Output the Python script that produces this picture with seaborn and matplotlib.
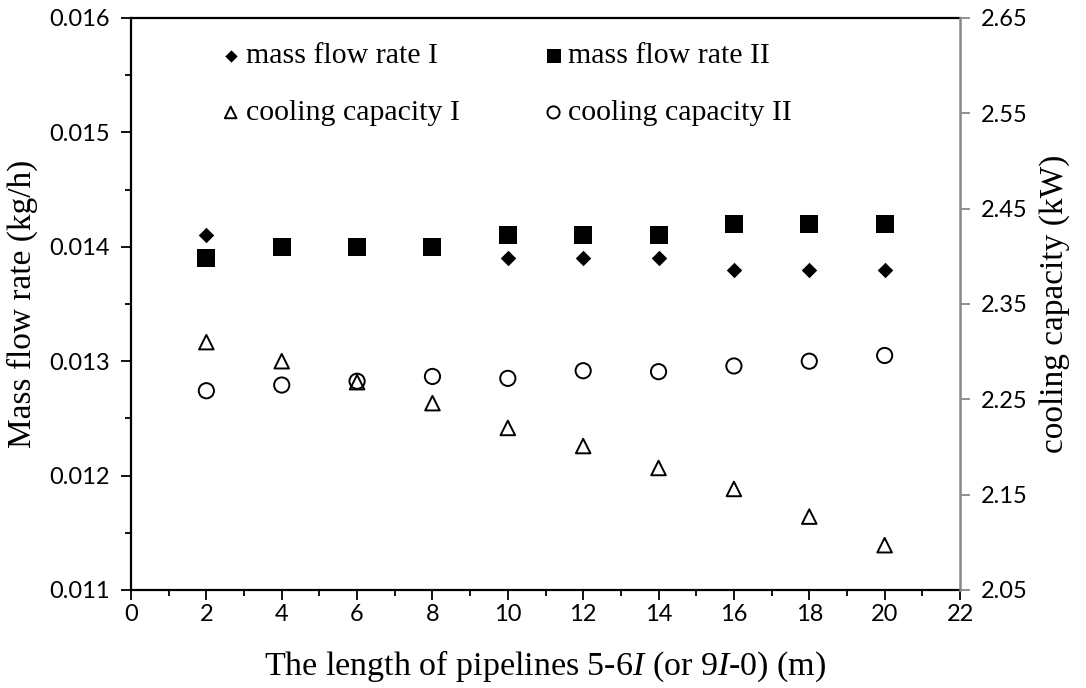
import matplotlib
matplotlib.use("Agg")
import matplotlib.pyplot as plt
import seaborn as sns
import numpy as np
import pandas as pd
from matplotlib.ticker import MultipleLocator, FormatStrFormatter

# ---- data ----
length_m = [2, 4, 6, 8, 10, 12, 14, 16, 18, 20]
mass_flow_I = [0.0141, 0.0140, 0.0140, 0.0140, 0.0139, 0.0139, 0.0139, 0.0138, 0.0138, 0.0138]
mass_flow_II = [0.0139, 0.0140, 0.0140, 0.0140, 0.0141, 0.0141, 0.0141, 0.0142, 0.0142, 0.0142]
cooling_I = [2.310, 2.290, 2.268, 2.246, 2.220, 2.201, 2.178, 2.156, 2.127, 2.097]
cooling_II = [2.259, 2.265, 2.269, 2.274, 2.272, 2.280, 2.279, 2.285, 2.290, 2.296]
x_ticks = list(range(0, 23, 2))
left_ticks = [0.011, 0.012, 0.013, 0.014, 0.015, 0.016]
right_ticks = [2.05, 2.15, 2.25, 2.35, 2.45, 2.55, 2.65]

sns.set_theme(style="white")
plt.rcParams['font.family'] = ['Lato', 'DejaVu Sans']
plt.rcParams['text.color'] = 'black'
plt.rcParams['axes.labelcolor'] = 'black'
plt.rcParams['mathtext.fontset'] = 'custom'
plt.rcParams['mathtext.rm'] = 'Liberation Serif'
plt.rcParams['mathtext.it'] = 'Liberation Serif:italic'

df = pd.DataFrame({"x": length_m, "m1": mass_flow_I, "m2": mass_flow_II,
                   "c1": cooling_I, "c2": cooling_II})

fig = plt.figure(figsize=(10.86, 6.88), dpi=100)
ax = fig.add_axes([131/1086, 1-590/688, (960-131)/1086, (590-18)/688])
ax2 = ax.twinx()

sns.scatterplot(data=df, x="x", y="m1", ax=ax, marker="D", s=62, color="black",
                edgecolor="black", linewidth=0, label="mass flow rate I", zorder=3)
sns.scatterplot(data=df, x="x", y="m2", ax=ax, marker="s", s=150, color="black",
                edgecolor="black", linewidth=0, label="mass flow rate II", zorder=4)
sns.scatterplot(data=df, x="x", y="c1", ax=ax2, marker="^", s=110, facecolor="none",
                edgecolor="black", linewidth=1.4, label="cooling capacity I", zorder=3)
sns.scatterplot(data=df, x="x", y="c2", ax=ax2, marker="o", s=120, facecolor="none",
                edgecolor="black", linewidth=1.4, label="cooling capacity II", zorder=3)

ax.set_xlim(0, 22)
ax.set_ylim(0.011, 0.016)
ax2.set_ylim(2.05, 2.65)
ax.set_xticks(x_ticks)
ax.xaxis.set_minor_locator(MultipleLocator(1))
ax.set_yticks(left_ticks)
ax.yaxis.set_minor_locator(MultipleLocator(0.0005))
ax.yaxis.set_major_formatter(FormatStrFormatter('%.3f'))
ax2.set_yticks(right_ticks)
ax2.yaxis.set_major_formatter(FormatStrFormatter('%.2f'))

for a in (ax, ax2):
    a.grid(False)
    a.set_facecolor('none')

ax.tick_params(axis='both', which='major', direction='out', length=7, width=1.3,
               color='black', labelsize=17, labelcolor='black')
ax.tick_params(axis='both', which='minor', direction='out', length=4, width=1.3,
               color='black')
ax.tick_params(axis='x', which='both', bottom=True, pad=3)
ax.tick_params(axis='y', which='both', left=True, pad=8)
ax2.tick_params(axis='y', which='major', direction='out', length=7, width=1.3,
                color='#888888', labelsize=17, labelcolor='black', right=True, pad=8)

for s in ['left', 'bottom', 'top']:
    ax.spines[s].set_color('black')
    ax.spines[s].set_linewidth(1.6)
ax.spines['right'].set_visible(False)
for s in ['left', 'bottom', 'top']:
    ax2.spines[s].set_visible(False)
ax2.spines['right'].set_color('#888888')
ax2.spines['right'].set_linewidth(1.8)

ax.set_xlabel(r"The length of pipelines 5-6$\mathit{I}$ (or 9$\mathit{I}$-0) (m)",
              family='Liberation Serif', fontsize=24.5, labelpad=17)
ax.set_ylabel("Mass flow rate (kg/h)", family='Liberation Serif', fontsize=24, labelpad=8)
ax2.set_ylabel("cooling capacity (kW)", family='Liberation Serif', fontsize=24, labelpad=8)

h1, l1 = ax.get_legend_handles_labels()
h2, l2 = ax2.get_legend_handles_labels()
if ax.get_legend():
    ax.get_legend().remove()
if ax2.get_legend():
    ax2.get_legend().remove()
handles = [h1[0], h1[1], h2[0], h2[1]]
labels = [l1[0], l1[1], l2[0], l2[1]]
order = [0, 2, 1, 3]
leg = ax2.legend([handles[i] for i in order], [labels[i] for i in order], ncol=2,
                 frameon=False, loc='upper left', bbox_to_anchor=(0.077, 1.004),
                 prop={'family': 'Liberation Serif', 'size': 21.5},
                 handlelength=0.6, handletextpad=0.2, columnspacing=2.85,
                 labelspacing=1.0, markerscale=0.8)

fig.savefig("out.png", dpi=100)
